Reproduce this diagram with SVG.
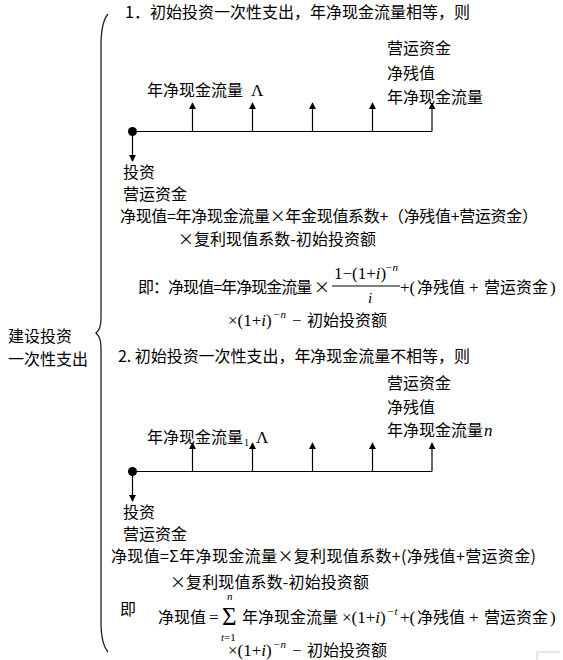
<svg xmlns="http://www.w3.org/2000/svg" width="563" height="660" viewBox="0 0 563 660">
<style>
text{font-family:"Noto Sans CJK SC","Noto Sans",sans-serif;font-size:16px;fill:#000}
.m{font-family:"Liberation Serif","DejaVu Serif",serif;font-size:17px}
.it{font-style:italic}
.sup{font-family:"Liberation Serif",serif;font-size:11px;font-style:italic}
.ln{stroke:#000;stroke-width:1.2;fill:none}
</style>
<defs>
<marker id="ah" viewBox="0 0 8 8" refX="7" refY="4" markerWidth="7" markerHeight="7" markerUnits="userSpaceOnUse" orient="auto">
<path d="M0,0 L8,4 L0,8 z" fill="#000"/>
</marker>
</defs>
<rect width="563" height="660" fill="#fff"/>

<g id="brace">
<path d="M108,14 C103,20 101,30 101,45 L101,318 C101,327 99,331 96,333 C99,336 101,339 101,348 L101,622 C101,638 103,646 108,652" fill="none" stroke="#222" stroke-width="1.3"/>
</g>
<g id="root-label">
<text x="8" y="342">建设投资</text>
<text x="8" y="365">一次性支出</text>
</g>

<g id="connectors">
<line class="ln" x1="132" y1="131.5" x2="432" y2="131.5"/>
<line class="ln" x1="192.5" y1="131.5" x2="192.5" y2="103" marker-end="url(#ah)"/>
<line class="ln" x1="252.5" y1="131.5" x2="252.5" y2="103" marker-end="url(#ah)"/>
<line class="ln" x1="312.5" y1="131.5" x2="312.5" y2="103" marker-end="url(#ah)"/>
<line class="ln" x1="372.5" y1="131.5" x2="372.5" y2="103" marker-end="url(#ah)"/>
<line class="ln" x1="432" y1="131.5" x2="432" y2="103" marker-end="url(#ah)"/>
<line class="ln" x1="132.5" y1="131.5" x2="132.5" y2="161" marker-end="url(#ah)"/>
<circle cx="132.5" cy="131.5" r="4.5" fill="#000"/>
<line class="ln" x1="132" y1="471.5" x2="432" y2="471.5"/>
<line class="ln" x1="192.5" y1="471.5" x2="192.5" y2="443" marker-end="url(#ah)"/>
<line class="ln" x1="252.5" y1="471.5" x2="252.5" y2="443" marker-end="url(#ah)"/>
<line class="ln" x1="312.5" y1="471.5" x2="312.5" y2="443" marker-end="url(#ah)"/>
<line class="ln" x1="372.5" y1="471.5" x2="372.5" y2="443" marker-end="url(#ah)"/>
<line class="ln" x1="432" y1="471.5" x2="432" y2="443" marker-end="url(#ah)"/>
<line class="ln" x1="132.5" y1="471.5" x2="132.5" y2="501" marker-end="url(#ah)"/>
<circle cx="132.5" cy="471.5" r="4.5" fill="#000"/>
</g>

<g id="section1">
<text x="125" y="18" textLength="345">1．初始投资一次性支出，年净现金流量相等，则</text>
<text x="387" y="54">营运资金</text>
<text x="387" y="79">净残值</text>
<text x="387" y="103">年净现金流量</text>
<text x="147" y="96">年净现金流量</text>
<text x="251" y="96" class="m">Λ</text>
<text x="123" y="178">投资</text>
<text x="123" y="200">营运资金</text>
<text x="120" y="222" textLength="418">净现值=年净现金流量×年金现值系数+（净残值+营运资金）</text>
<text x="178" y="245" textLength="198">×复利现值系数-初始投资额</text>
<text x="138" y="293" textLength="192">即：净现值=年净现金流量 ×</text>
<text x="334" y="279" class="m">1−(1+<tspan class="it">i</tspan>)</text>
<text x="385" y="271" class="sup">−n</text>
<line x1="332" y1="286" x2="400" y2="286" stroke="#000" stroke-width="1"/>
<text x="368" y="303" class="m it" style="font-size:15px">i</text>
<text x="400" y="293" class="m">+(</text>
<text x="417" y="293">净残值</text>
<text x="469" y="293" class="m">+</text>
<text x="484" y="293">营运资金</text>
<text x="550" y="293" class="m">)</text>
<text x="228" y="326" class="m">×(1+<tspan class="it">i</tspan>)</text>
<text x="273" y="318" class="sup">−n</text>
<text x="292" y="326" class="m">−</text>
<text x="307" y="326">初始投资额</text>
</g>

<g id="section2">
<text x="118" y="362" textLength="352">2. 初始投资一次性支出，年净现金流量不相等，则</text>
<text x="387" y="389">营运资金</text>
<text x="387" y="413">净残值</text>
<text x="387" y="436">年净现金流量</text>
<text x="484" y="436" class="m it">n</text>
<text x="147" y="443">年净现金流量</text>
<text x="244" y="446" class="m" style="font-size:10px">1</text>
<text x="256" y="443" class="m">Λ</text>
<text x="123" y="518">投资</text>
<text x="123" y="540">营运资金</text>
<text x="111" y="562" textLength="425">净现值=Σ年净现金流量×复利现值系数+(净残值+营运资金)</text>
<text x="170" y="588" textLength="199">×复利现值系数-初始投资额</text>
<text x="120" y="615">即</text>
<text x="158" y="623">净现值</text>
<text x="209" y="623" class="m">=</text>
<text x="222" y="625" class="m" style="font-size:25px">Σ</text>
<text x="227" y="600" class="sup">n</text>
<text x="221" y="641" class="sup" style="font-style:normal;font-size:11px"><tspan class="it">t</tspan>=1</text>
<text x="242" y="623">年净现金流量</text>
<text x="342" y="623" class="m">×(1+<tspan class="it">i</tspan>)</text>
<text x="387" y="615" class="sup">−t</text>
<text x="400" y="623" class="m">+(</text>
<text x="417" y="623">净残值</text>
<text x="469" y="623" class="m">+</text>
<text x="484" y="623">营运资金</text>
<text x="550" y="623" class="m">)</text>
<text x="228" y="656" class="m">×(1+<tspan class="it">i</tspan>)</text>
<text x="273" y="648" class="sup">−n</text>
<text x="292" y="656" class="m">−</text>
<text x="307" y="656">初始投资额</text>
</g>

<g id="corner-mark">
<path d="M560,652 L537,652 L537,660" fill="none" stroke="#ccc" stroke-width="1"/>
</g>
</svg>
